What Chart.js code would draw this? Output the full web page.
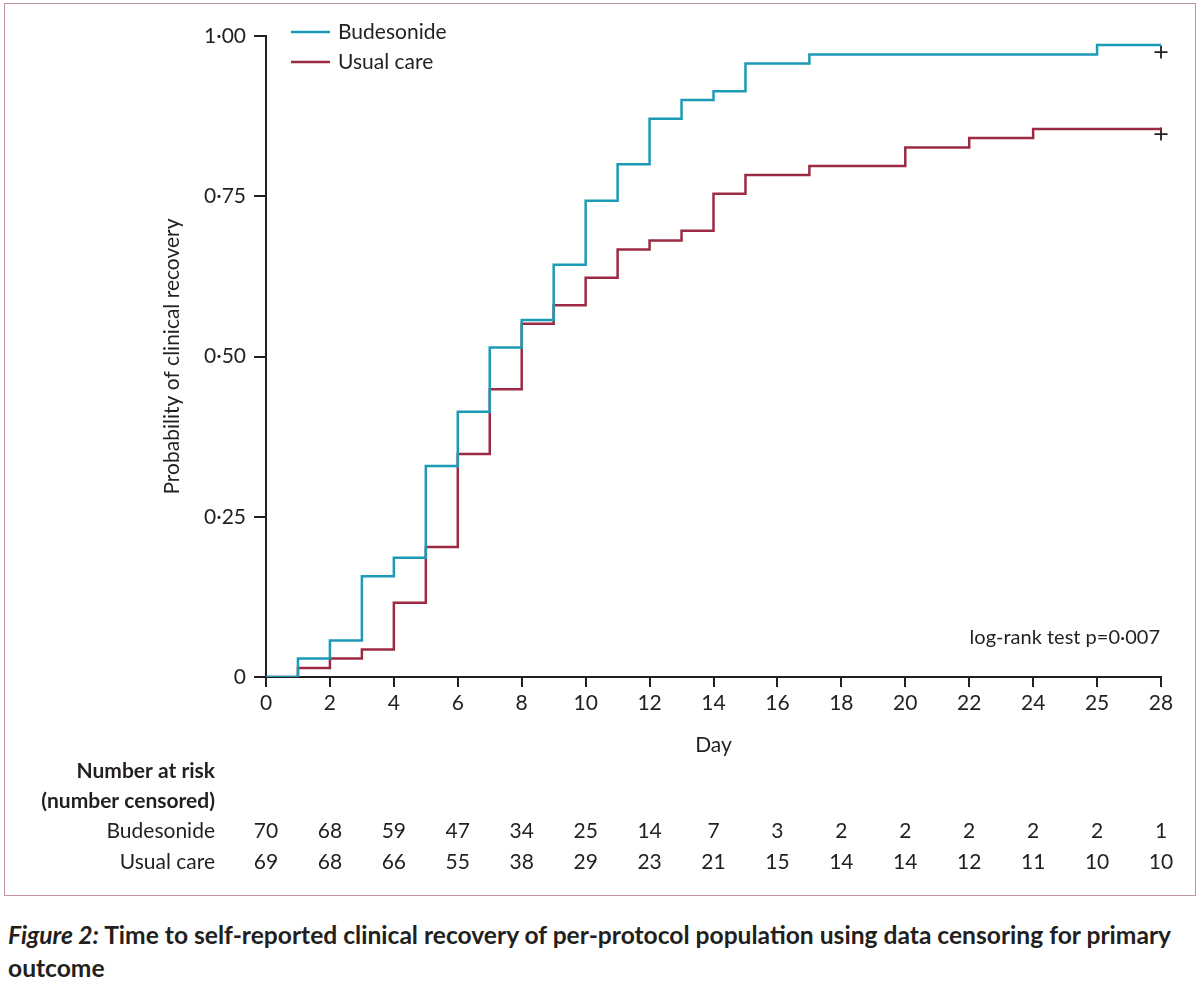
<!DOCTYPE html>
<html lang="en">
<head>
  <meta charset="UTF-8" />
  <title>Time to self-reported clinical recovery</title>
  <script src="https://cdn.jsdelivr.net/npm/chart.js"></script>
  <style>
    body {
      margin: 0;
      background: #fff;
      font-family: Lato, sans-serif;
      color: #231f20;
    }
    #wrap {
      position: relative;
      width: 1200px;
      height: 983px;
    }
    #frame {
      position: absolute;
      left: 4px;
      top: 3px;
      width: 1192px;
      height: 893px;
      border: 1.5px solid #c4949c;
      box-sizing: border-box;
    }
    #myChart {
      position: absolute;
      left: 0;
      top: 0;
    }
    #caption {
      position: absolute;
      left: 8px;
      top: 918px;
      width: 1182px;
      font-size: 24.6px;
      font-weight: bold;
      line-height: 33px;
    }
  </style>
</head>
<body>
  <div id="wrap">
    <div id="frame"></div>
    <canvas id="myChart" width="1200" height="900"></canvas>
    <div id="caption"><i>Figure 2:</i> Time to self-reported clinical recovery of per-protocol population using data censoring for primary outcome</div>
  </div>

  <script>
    // Kaplan-Meier steps (day, cumulative probability of recovery)
    const budDays = [0, 1, 2, 3, 4, 5, 6, 7, 8, 9, 10, 11, 12, 13, 14, 15, 17, 26, 28];
    const budProb = [0, 0.029, 0.057, 0.157, 0.186, 0.329, 0.414, 0.514, 0.557, 0.643, 0.743, 0.800, 0.871, 0.900, 0.914, 0.957, 0.971, 0.986, 0.986];
    const ucDays = [0, 1, 2, 3, 4, 5, 6, 7, 8, 9, 10, 11, 12, 13, 14, 15, 17, 20, 22, 24, 28];
    const ucProb = [0, 0.014, 0.029, 0.043, 0.116, 0.203, 0.348, 0.449, 0.551, 0.580, 0.623, 0.667, 0.681, 0.696, 0.754, 0.783, 0.797, 0.826, 0.841, 0.855, 0.855];

    // censoring marks
    const censorDays = [28, 28];
    const censorProb = [0.975, 0.847];

    const tickDays = [0, 2, 4, 6, 8, 10, 12, 14, 16, 18, 20, 22, 24, 26, 28];
    const tickLabels = ['0', '2', '4', '6', '8', '10', '12', '14', '16', '18', '20', '22', '24', '25', '28'];
    const yTicks = [0, 0.25, 0.5, 0.75, 1];
    const yTickLabels = ['0', '0·25', '0·50', '0·75', '1·00'];

    // number at risk (number censored)
    const riskBud = [70, 68, 59, 47, 34, 25, 14, 7, 3, 2, 2, 2, 2, 2, 1];
    const riskUc = [69, 68, 66, 55, 38, 29, 23, 21, 15, 14, 14, 12, 11, 10, 10];

    const blue = '#1d9bb6';
    const red = '#9c2a42';
    const ink = '#231f20';
    const font = 'Lato, sans-serif';

    function pts(xs, ys) {
      return xs.map((x, i) => ({ x: x, y: ys[i] }));
    }

    const extras = {
      id: 'extras',
      afterDraw(chart) {
        const ctx = chart.ctx;
        const xs = chart.scales.x;
        ctx.save();
        ctx.fillStyle = ink;

        // legend
        ctx.lineWidth = 2.5;
        ctx.strokeStyle = blue;
        ctx.beginPath(); ctx.moveTo(291, 32); ctx.lineTo(330, 32); ctx.stroke();
        ctx.strokeStyle = red;
        ctx.beginPath(); ctx.moveTo(291, 62); ctx.lineTo(330, 62); ctx.stroke();
        ctx.font = '21px ' + font;
        ctx.textAlign = 'left';
        ctx.textBaseline = 'middle';
        ctx.fillText('Budesonide', 338, 32);
        ctx.fillText('Usual care', 338, 62);

        // test result
        ctx.font = '20px ' + font;
        ctx.textAlign = 'right';
        ctx.fillText('log-rank test p=0·007', 1160, 638);

        // risk table
        ctx.font = 'bold 21px ' + font;
        ctx.fillText('Number at risk', 215, 771);
        ctx.fillText('(number censored)', 215, 801);
        ctx.font = '21px ' + font;
        ctx.fillText('Budesonide', 215, 831);
        ctx.fillText('Usual care', 215, 862);
        ctx.textAlign = 'center';
        tickDays.forEach((d, i) => {
          const px = xs.getPixelForValue(d);
          ctx.fillText(String(riskBud[i]), px, 831);
          ctx.fillText(String(riskUc[i]), px, 862);
        });
        ctx.restore();
      }
    };

    const ctx = document.getElementById('myChart').getContext('2d');
    const chart = new Chart(ctx, {
      type: 'line',
      data: {
        datasets: [
          {
            label: 'Budesonide',
            data: pts(budDays, budProb),
            borderColor: blue,
            borderWidth: 2.5,
            stepped: 'before',
            pointRadius: 0,
            fill: false
          },
          {
            label: 'Usual care',
            data: pts(ucDays, ucProb),
            borderColor: red,
            borderWidth: 2.5,
            stepped: 'before',
            pointRadius: 0,
            fill: false
          },
          {
            label: 'Censored',
            type: 'scatter',
            data: pts(censorDays, censorProb),
            pointStyle: 'cross',
            pointRadius: 6.5,
            borderColor: ink,
            borderWidth: 1.8,
            showLine: false,
            clip: false
          }
        ]
      },
      options: {
        responsive: false,
        animation: false,
        devicePixelRatio: 1,
        layout: { padding: { left: 156, top: 36, right: 39, bottom: 138 } },
        plugins: {
          legend: { display: false },
          tooltip: { enabled: false }
        },
        scales: {
          x: {
            type: 'linear',
            min: 0,
            max: 28,
            afterBuildTicks: (s) => { s.ticks = tickDays.map(v => ({ value: v })); },
            afterFit: (s) => { s.height = 85; },
            ticks: {
              font: { family: font, size: 21 },
              color: ink,
              padding: 4,
              maxRotation: 0,
              callback: (v) => tickLabels[tickDays.indexOf(v)]
            },
            grid: { drawOnChartArea: false, drawTicks: true, tickLength: 10, color: ink, lineWidth: 2 },
            border: { display: true, color: ink, width: 2 },
            title: { display: true, text: 'Day', font: { family: font, size: 21 }, color: ink }
          },
          y: {
            min: 0,
            max: 1,
            afterBuildTicks: (s) => { s.ticks = yTicks.map(v => ({ value: v })); },
            afterFit: (s) => { s.width = 110; },
            ticks: {
              font: { family: font, size: 21 },
              color: ink,
              padding: 8,
              callback: (v) => yTickLabels[yTicks.indexOf(v)]
            },
            grid: { drawOnChartArea: false, drawTicks: true, tickLength: 12, color: ink, lineWidth: 2 },
            border: { display: true, color: ink, width: 2 },
            title: { display: true, text: 'Probability of clinical recovery', font: { family: font, size: 21 }, color: ink }
          }
        }
      },
      plugins: [extras]
    });
  </script>
</body>
</html>
